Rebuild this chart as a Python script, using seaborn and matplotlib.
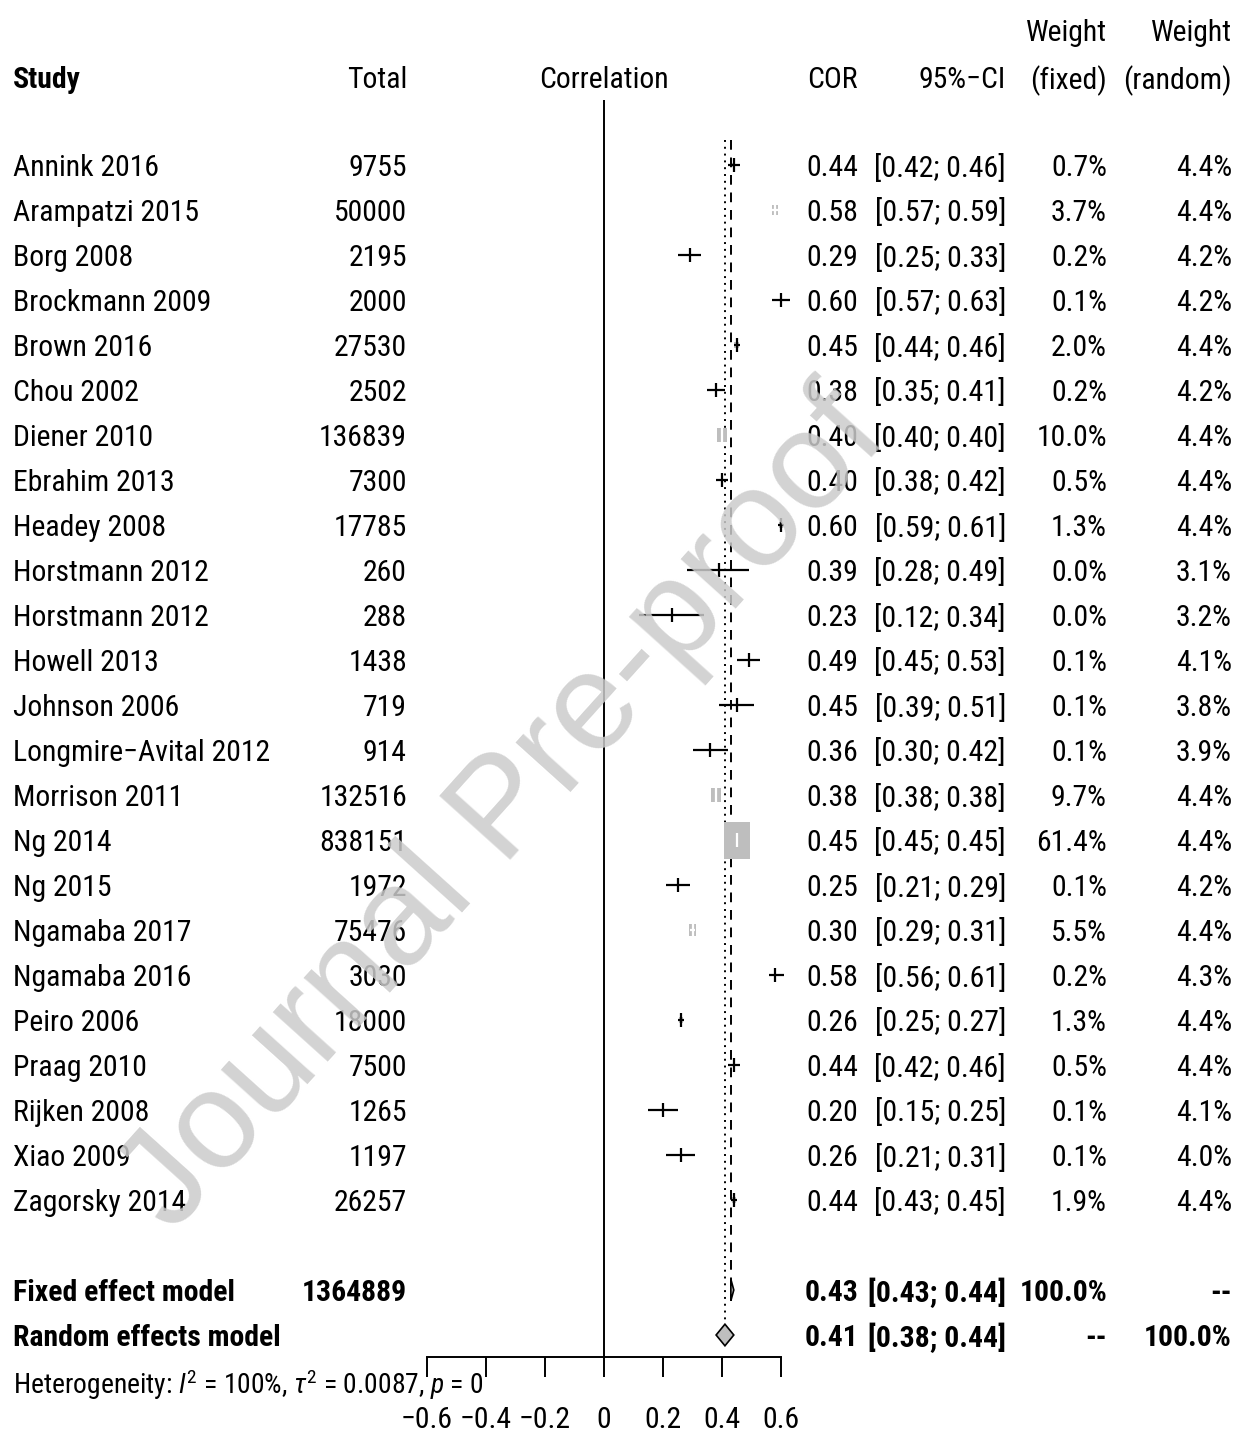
import matplotlib
matplotlib.use('Agg')
import matplotlib.pyplot as plt
import matplotlib.transforms as mtransforms
from matplotlib import font_manager as fm
from matplotlib.patches import Rectangle, Polygon
import seaborn as sns
import numpy as np
import pandas as pd

# ---- data ----
studies = ['Annink 2016', 'Arampatzi 2015', 'Borg 2008', 'Brockmann 2009', 'Brown 2016',
           'Chou 2002', 'Diener 2010', 'Ebrahim 2013', 'Headey 2008', 'Horstmann 2012',
           'Horstmann 2012', 'Howell 2013', 'Johnson 2006', 'Longmire\u2212Avital 2012',
           'Morrison 2011', 'Ng 2014', 'Ng 2015', 'Ngamaba 2017', 'Ngamaba 2016',
           'Peiro 2006', 'Praag 2010', 'Rijken 2008', 'Xiao 2009', 'Zagorsky 2014']
totals = [9755, 50000, 2195, 2000, 27530, 2502, 136839, 7300, 17785, 260, 288, 1438,
          719, 914, 132516, 838151, 1972, 75476, 3030, 18000, 7500, 1265, 1197, 26257]
cor = [0.44, 0.58, 0.29, 0.60, 0.45, 0.38, 0.40, 0.40, 0.60, 0.39, 0.23, 0.49,
       0.45, 0.36, 0.38, 0.45, 0.25, 0.30, 0.58, 0.26, 0.44, 0.20, 0.26, 0.44]
ci_lo = [0.42, 0.57, 0.25, 0.57, 0.44, 0.35, 0.40, 0.38, 0.59, 0.28, 0.12, 0.45,
         0.39, 0.30, 0.38, 0.45, 0.21, 0.29, 0.56, 0.25, 0.42, 0.15, 0.21, 0.43]
ci_hi = [0.46, 0.59, 0.33, 0.63, 0.46, 0.41, 0.40, 0.42, 0.61, 0.49, 0.34, 0.53,
         0.51, 0.42, 0.38, 0.45, 0.29, 0.31, 0.61, 0.27, 0.46, 0.25, 0.31, 0.45]
w_fixed = [0.7, 3.7, 0.2, 0.1, 2.0, 0.2, 10.0, 0.5, 1.3, 0.0, 0.0, 0.1,
           0.1, 0.1, 9.7, 61.4, 0.1, 5.5, 0.2, 1.3, 0.5, 0.1, 0.1, 1.9]
w_random = [4.4, 4.4, 4.2, 4.2, 4.4, 4.2, 4.4, 4.4, 4.4, 3.1, 3.2, 4.1,
            3.8, 3.9, 4.4, 4.4, 4.2, 4.4, 4.3, 4.4, 4.4, 4.1, 4.0, 4.4]

fixed_total = 1364889
fixed_est, fixed_lo, fixed_hi = 0.43, 0.43, 0.44
random_est, random_lo, random_hi = 0.41, 0.38, 0.44
ticks = [-0.6, -0.4, -0.2, 0, 0.2, 0.4, 0.6]
tick_labels = ['\u22120.6', '\u22120.4', '\u22120.2', '0', '0.2', '0.4', '0.6']

df = pd.DataFrame({'study': studies, 'total': totals, 'cor': cor, 'lo': ci_lo,
                   'hi': ci_hi, 'wf': w_fixed, 'wr': w_random})
df['row'] = np.arange(len(df))

# ---- pick a narrow font if one is installed ----
condensed = {}
for f in fm.fontManager.ttflist:
    if 'condensed' in str(f.stretch) or 'narrow' in f.name.lower():
        condensed.setdefault(f.name, []).append(f)
family, stretch = 'Liberation Sans', 'normal'
for cand in ['Liberation Sans Narrow', 'Arial Narrow', 'Roboto Condensed', 'Open Sans Condensed',
             'Noto Sans', 'Liberation Sans', 'Roboto', 'Open Sans', 'DejaVu Sans', 'Lato', 'Inter']:
    if cand in condensed:
        family, stretch = cand, 'condensed'
        break

sns.set_theme(style='white')
plt.rcParams['font.family'] = [family, 'Liberation Sans', 'DejaVu Sans']
plt.rcParams['font.stretch'] = stretch
plt.rcParams['mathtext.fontset'] = 'custom'
plt.rcParams['mathtext.rm'] = family
plt.rcParams['mathtext.it'] = family + ':italic'

W, H = 1246, 1438
PX_X = 295.0   # pixels per unit of correlation
PX_Y = 45.0    # pixels per row
fig = plt.figure(figsize=(W / 100, H / 100), dpi=100)
ax = fig.add_axes([0, 0, 1, 1])
ax.set_xlim(-604 / PX_X, (W - 604) / PX_X)
ax.set_ylim((H - 165) / PX_Y, -165 / PX_Y)
ax.set_facecolor('white')

# scale font so that row labels are as wide as in the reference
probe = fig.text(0, 0, 'Annink 2016', fontsize=24)
wpx = probe.get_window_extent(fig.canvas.get_renderer()).width
probe.remove()
fs = min(26, 24 * 146 / wpx)
fs_small = fs * 0.93

fixed_row = len(df) + 1
random_row = len(df) + 2
axis_row = 26.49

# reference lines
ax.vlines(0, -1.45, axis_row, color='black', lw=1.4)
ax.vlines(fixed_est, -0.55, fixed_row + 0.25, color='black', lw=1.4, linestyles=(0, (5, 4)))
ax.vlines(random_est, -0.55, random_row - 0.28, color='black', lw=1.4, linestyles=(0, (1, 2.5)))

# squares sized by fixed weight, CI lines
for _, r in df.iterrows():
    hpx = 37 * np.sqrt(r.wf / 61.4)
    wsq = 0.7 * hpx
    if hpx > 0.5:
        ax.add_patch(Rectangle((r.cor - wsq / 2 / PX_X, r.row - hpx / 2 / PX_Y),
                               wsq / PX_X, hpx / PX_Y, facecolor='#bebebe',
                               edgecolor='none', zorder=3))
    inside = (r.hi - r.lo) * PX_X < wsq
    col = 'white' if inside else 'black'
    ax.hlines(r.row, r.lo, r.hi, color=col, lw=1.6, zorder=4)
    ax.vlines(r.cor, r.row - 0.15, r.row + 0.15, color=col, lw=1.6, zorder=4)

# summary diamonds
for row, est, lo, hi in [(fixed_row, fixed_est, fixed_lo, fixed_hi),
                         (random_row, random_est, random_lo, random_hi)]:
    hh = 0.24
    ax.add_patch(Polygon([(lo, row), (est, row - hh), (hi, row), (est, row + hh)],
                         closed=True, facecolor='#bebebe', edgecolor='black', lw=1.2, zorder=4))

# x axis
for s in ['top', 'left', 'right']:
    ax.spines[s].set_visible(False)
ax.spines['bottom'].set_position(('data', axis_row))
ax.spines['bottom'].set_bounds(-0.6, 0.6)
ax.spines['bottom'].set_color('black')
ax.spines['bottom'].set_linewidth(1.4)
ax.set_xticks(ticks, tick_labels)
ax.set_yticks([])
ax.tick_params(axis='x', direction='out', length=14.4, width=1.4, pad=21,
               labelsize=fs, colors='black', bottom=True)
ax.grid(False)

# text columns
tr = mtransforms.blended_transform_factory(fig.transFigure, ax.transData)


def put(px, row, s, ha='right', bold=False, size=None):
    ax.text(px / W, row, s, transform=tr, ha=ha, va='center_baseline', fontsize=size or fs,
            fontweight='bold' if bold else 'normal', color='black')


hdr = -1.95
put(13, hdr, 'Study', ha='left', bold=True)
put(407, hdr, 'Total')
put(604, hdr, 'Correlation', ha='center')
put(858, hdr, 'COR')
put(1006, hdr, '95%\u2212CI')
put(1107, hdr - 1.05, 'Weight')
put(1232, hdr - 1.05, 'Weight')
put(1107, hdr, '(fixed)')
put(1232, hdr, '(random)')

for _, r in df.iterrows():
    put(13, r.row, r.study, ha='left')
    put(407, r.row, f'{r.total}')
    put(858, r.row, f'{r.cor:.2f}')
    put(1006, r.row, f'[{r.lo:.2f}; {r.hi:.2f}]')
    put(1107, r.row, f'{r.wf:.1f}%')
    put(1232, r.row, f'{r.wr:.1f}%')

put(13, fixed_row, 'Fixed effect model', ha='left', bold=True)
put(407, fixed_row, f'{fixed_total}', bold=True)
put(858, fixed_row, f'{fixed_est:.2f}', bold=True)
put(1006, fixed_row, f'[{fixed_lo:.2f}; {fixed_hi:.2f}]', bold=True)
put(1107, fixed_row, '100.0%', bold=True)
put(1232, fixed_row, '--', bold=True)

put(13, random_row, 'Random effects model', ha='left', bold=True)
put(858, random_row, f'{random_est:.2f}', bold=True)
put(1006, random_row, f'[{random_lo:.2f}; {random_hi:.2f}]', bold=True)
put(1107, random_row, '--', bold=True)
put(1232, random_row, '100.0%', bold=True)

put(13, 27.02, r'Heterogeneity: $I^2$ = 100%, $\tau^2$ = 0.0087, $p$ = 0', ha='left', size=fs_small)

# watermark
fig.text(505 / W, 1 - 812 / H, 'Journal Pre-proof', rotation=48, fontsize=100,
         color='#cbcbcb', alpha=0.85, ha='center', va='center',
         family=['Liberation Sans', 'DejaVu Sans'], stretch='normal', zorder=10)

fig.savefig('out.png', dpi=100, facecolor='white')
